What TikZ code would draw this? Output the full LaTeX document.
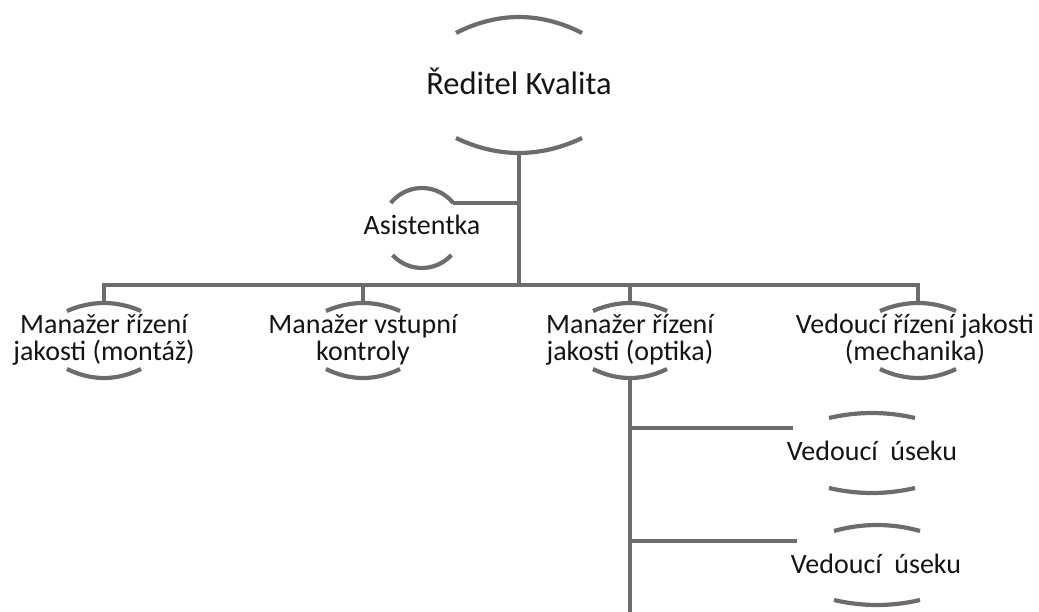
\documentclass[tikz,border=0pt]{standalone}
\usepackage{fontspec}
\setmainfont{Carlito}
\begin{document}
\begin{tikzpicture}[x=1pt,y=-1pt,
  line/.style={draw=linegray,line width=4.5pt},
  rim/.style={draw=linegray,line width=4.2pt},
  label/.style={text=textblack,font=\fontsize{28}{27}\selectfont,inner sep=0pt,anchor=base,align=center}]
\definecolor{linegray}{RGB}{108,108,108}
\definecolor{textblack}{RGB}{20,20,20}
\useasboundingbox (0,0) rectangle (1039,612);

% upper and lower rim of a person symbol: centre x, half width,
% top rim (end y, crest y), bottom rim (end y, lowest y)
\newcommand\rims[6]{%
  \draw[rim] ({#1-#2},#3) parabola bend (#1,#4) ({#1+#2},#3);
  \draw[rim] ({#1-#2},#5) parabola bend (#1,#6) ({#1+#2},#5);}

% director
\node[label,font=\fontsize{32.5}{34}\selectfont] (dir) at (519,95) {Ředitel Kvalita};
\rims{519}{63}{33}{17}{138}{153}
\coordinate (dirB) at (519,153);

% assistant (circle of radius 40 around the label)
\node[label] (asist) at (422,235) {Asistentka};
\draw[rim] (422,228) ++(38.7:40pt) arc[start angle=38.7,end angle=141.3,radius=40pt];
\draw[rim] (422,228) ++(-42.5:40pt) arc[start angle=-42.5,end angle=-137.5,radius=40pt];
\coordinate (asE) at (453,203);

% managers (base = baseline of the second line)
\node[label] (m1) at (104,360) {Manažer řízení\\jakosti (montáž)};
\node[label] (m2) at (363,360) {Manažer vstupní\\kontroly};
\node[label] (m3) at (630,360) {Manažer řízení\\jakosti (optika)};
\node[label] (m4) at (915,360) {Vedoucí řízení jakosti\\(mechanika)};
\rims{104}{37}{311}{303}{369}{378}
\rims{363}{37}{311}{303}{369}{378}
\rims{630}{37}{311}{303}{369}{378}
\rims{918}{38}{311}{303}{369}{378}
\coordinate (m1T) at (104,303);
\coordinate (m2T) at (363,303);
\coordinate (m3T) at (630,303);
\coordinate (m4T) at (918,303);
\coordinate (m3B) at (630,378);

% section leaders
\node[label] (u1) at (872,460) {Vedoucí\ \ úseku};
\node[label] (u2) at (876,573) {Vedoucí\ \ úseku};
\rims{872}{43}{418}{413}{488}{493}
\rims{877}{43}{531}{525}{600}{605}
\coordinate (u1L) at (793,428);
\coordinate (u2L) at (797,541);

% connectors
\coordinate (bus) at (519,285);
\coordinate (trunkEnd) at (630,612);
\draw[line] (dirB) -- (bus);
\draw[line] (asE) -- (dirB |- asE);
\draw[line] (m1T) |- (bus);
\draw[line] (m4T) |- (bus);
\draw[line] (m2T) -- (m2T |- bus);
\draw[line] (m3T) -- (m3T |- bus);
\draw[line] (m3B) -- (trunkEnd);
\draw[line] (m3B |- u1L) -- (u1L);
\draw[line] (m3B |- u2L) -- (u2L);
\end{tikzpicture}
\end{document}
